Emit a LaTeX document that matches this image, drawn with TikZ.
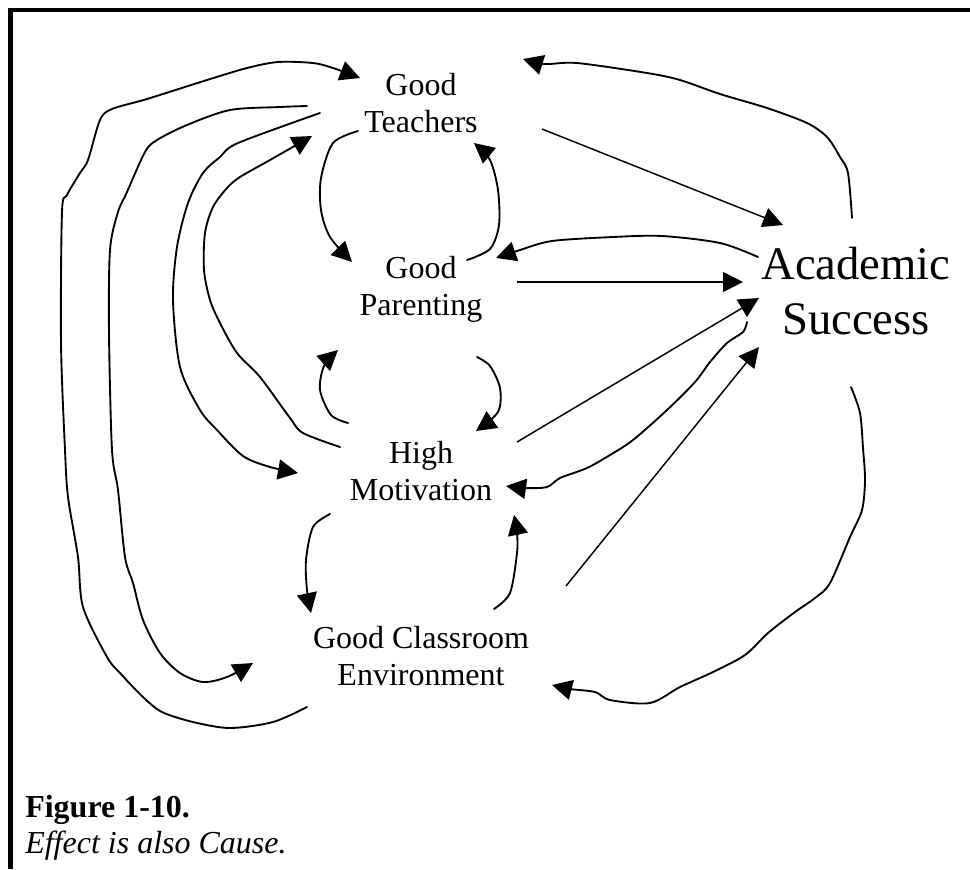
\documentclass[tikz,border=0pt]{standalone}
\usepackage{fontspec}
\setmainfont{Liberation Serif}
\usetikzlibrary{arrows.meta}
\begin{document}
\begin{tikzpicture}[x=0.75pt,y=-0.75pt,
  lbl/.style={inner sep=0pt, anchor=base, font=\fontsize{24}{27.75}\selectfont},
  biglbl/.style={inner sep=0pt, anchor=base, font=\fontsize{35}{41.25}\selectfont},
  captxt/.style={inner sep=0pt, anchor=base west, font=\fontsize{24}{27}\selectfont},
  curve/.style={line width=1.4pt, line join=round, line cap=round},
  arr/.style={curve, -{Triangle[length=15pt,width=15pt]}},
  sarr/.style={line width=1.1pt, -{Triangle[length=15pt,width=15pt]}},
  framefill/.style={fill=black, draw=none}]
\useasboundingbox (0,0) rectangle (970,869);
% frame
\fill[framefill] (8,7.5) rectangle (970,12);
\fill[framefill] (8,7.5) rectangle (13,869);
% nodes
\node[lbl] (T) at (421,95) {\begin{tabular}[t]{c}Good\\Teachers\end{tabular}};
\node[lbl] (P) at (421,278) {\begin{tabular}[t]{c}Good\\Parenting\end{tabular}};
\node[lbl] (M) at (421,463) {\begin{tabular}[t]{c}High\\Motivation\end{tabular}};
\node[lbl] (C) at (421,648) {\begin{tabular}[t]{c}Good Classroom\\Environment\end{tabular}};
\node[biglbl] (S) at (856,279) {\begin{tabular}[t]{c}Academic\\Success\end{tabular}};
\node[captxt] (F) at (25,817) {\begin{tabular}[t]{@{}l@{}}\textbf{Figure 1-10.}\\\textit{Effect is also Cause.}\end{tabular}};
% connector end points
\coordinate (c1s) at (307,707);  \coordinate (c1e) at (360,78);
\coordinate (c2s) at (307,106);  \coordinate (c2e) at (253,663);
\coordinate (c3s) at (320,113);  \coordinate (c3e) at (298,473);
\coordinate (c4s) at (340,447);  \coordinate (c4e) at (312,136);
\coordinate (c5s) at (358,131);  \coordinate (c5e) at (352,262);
\coordinate (c6s) at (467,260);  \coordinate (c6e) at (474,143);
\coordinate (c7s) at (348,423);  \coordinate (c7e) at (338,350);
\coordinate (c8s) at (477,357);  \coordinate (c8e) at (476,431);
\coordinate (c9s) at (852,218);  \coordinate (c9e) at (523,59);
\coordinate (c10s) at (542,129); \coordinate (c10e) at (783,225);
\coordinate (c11s) at (758,257); \coordinate (c11e) at (496,258);
\coordinate (c12s) at (517,282); \coordinate (c12e) at (743,282);
\coordinate (c13s) at (517,442); \coordinate (c13e) at (759,298);
\coordinate (c14s) at (747,322); \coordinate (c14e) at (506,486);
\coordinate (c15s) at (566,586); \coordinate (c15e) at (759,347);
\coordinate (c16s) at (494,609); \coordinate (c16e) at (514,515);
\coordinate (c17s) at (851,387); \coordinate (c17e) at (552,685);
\coordinate (c18s) at (330,514); \coordinate (c18e) at (311,613);
% Classroom -> Teachers (outermost)
\draw[arr] plot[smooth] coordinates {(c1s) (273,722) (230,728) (193,722) (162,712) (143,697) (120,673) (107,657) (83,607) (78,557) (68,497) (65,450) (61,343) (62,212) (67,195) (80,173) (88,160) (100,120) (112,109) (147,99) (207,80) (247,68) (278,62) (313,63) (333,68) (c1e)};
% Teachers -> Classroom
\draw[arr] plot[smooth] coordinates {(c2s) (280,107) (230,110) (187,125) (157,140) (145,152) (127,192) (118,212) (110,250) (109,333) (112,450) (118,490) (125,557) (133,583) (143,620) (160,653) (180,673) (203,682) (227,677) (c2e)};
% Teachers -> Motivation
\draw[arr] plot[smooth] coordinates {(c3s) (238,143) (220,157) (203,173) (188,203) (177,247) (173,300) (180,367) (200,410) (217,430) (243,456) (270,467) (c3e)};
% Motivation -> Teachers
\draw[arr] plot[smooth] coordinates {(c4s) (303,433) (290,418) (260,377) (237,353) (220,323) (210,300) (204,270) (205,233) (213,207) (227,188) (240,177) (270,160) (c4e)};
% Teachers -> Parenting
\draw[arr] plot[smooth] coordinates {(c5s) (333,143) (321,178) (321,210) (330,237) (c5e)};
% Parenting -> Teachers
\draw[arr] plot[smooth] coordinates {(c6s) (490,249) (499,225) (498,190) (490,160) (c6e)};
% Motivation -> Parenting
\draw[arr] plot[smooth] coordinates {(c7s) (331,415) (320,390) (324,366) (c7e)};
% Parenting -> Motivation
\draw[arr] plot[smooth] coordinates {(c8s) (490,366) (500,388) (498,412) (c8e)};
% Success -> Teachers
\draw[arr] plot[smooth] coordinates {(c9s) (848,173) (840,157) (827,137) (807,123) (767,108) (720,94) (680,80) (647,73) (577,63) (545,64) (c9e)};
% Teachers -> Success
\draw[sarr] (c10s) -- (c10e);
% Success -> Parenting
\draw[arr] plot[smooth] coordinates {(c11s) (720,243) (662,236) (613,237) (552,241) (520,250) (c11e)};
% Parenting -> Success
\draw[sarr] (c12s) -- (c12e);
% Motivation -> Success
\draw[sarr] (c13s) -- (c13e);
% Success -> Motivation
\draw[arr] plot[smooth] coordinates {(c14s) (743,332) (727,343) (710,362) (695,382) (667,410) (633,440) (610,455) (587,468) (560,478) (547,487) (525,488) (c14e)};
% Classroom -> Success
\draw[sarr] (c15s) -- (c15e);
% Classroom -> Motivation
\draw[arr] plot[smooth] coordinates {(c16s) (510,593) (517,553) (517,533) (c16e)};
% Success -> Classroom
\draw[arr] plot[smooth] coordinates {(c17s) (860,413) (863,448) (865,480) (862,510) (850,537) (830,583) (815,598) (795,612) (768,633) (745,655) (713,672) (680,687) (650,703) (610,700) (595,692) (570,689) (c17e)};
% Motivation -> Classroom
\draw[arr] plot[smooth] coordinates {(c18s) (313,527) (306,560) (307,590) (c18e)};
\end{tikzpicture}
\end{document}
